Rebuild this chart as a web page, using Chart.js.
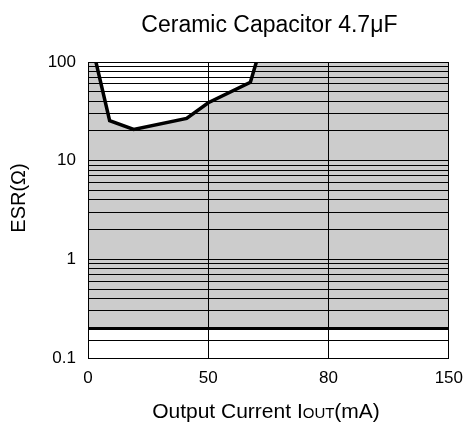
<!DOCTYPE html>
<html>
<head>
<meta charset="utf-8">
<script src="https://cdn.jsdelivr.net/npm/chart.js@4/dist/chart.umd.min.js"></script>
<style>
  html, body { margin: 0; padding: 0; background: #ffffff; }
  #wrap { width: 473px; height: 422px; }
</style>
</head>
<body>
<div id="wrap"><canvas id="c" width="473" height="422"></canvas></div>
<script>
// ---- data ----
const currentMA = [3.3, 9, 19, 41, 50, 60.5, 62];          // Output current (mA)
const esrOhm    = [100, 25.4, 20.7, 26.8, 38.6, 62.2, 100]; // ESR boundary (Ω)
const xTickValues = [0, 50, 80, 150];                        // x tick labels (equally spaced)
const yTickLabels = [0.1, 1, 10, 100];                       // labelled y ticks
const yGridValues = [0.1, 0.15, 0.2, 0.3, 0.4, 0.5, 0.6, 0.7, 0.8, 0.9,
                     1, 2, 3, 4, 5, 6, 7, 8, 9,
                     10, 20, 30, 40, 50, 60, 70, 80, 90, 100];
const stableLowerESR = 0.2;                                  // lower limit of stable area
const esrMax = 100;
const chartTitle = 'Ceramic Capacitor 4.7\u03BCF';
const yTitle = 'ESR(\u03A9)';

// x axis is piecewise linear: each tick interval gets equal width
function toAxis(mA) {
  for (let i = 0; i < xTickValues.length - 1; i++) {
    const a = xTickValues[i], b = xTickValues[i + 1];
    if (mA <= b) return i + (mA - a) / (b - a);
  }
  return xTickValues.length - 1;
}

const FONT = '"Liberation Sans", Arial, sans-serif';
const curvePoints = currentMA.map((c, i) => ({ x: toAxis(c), y: esrOhm[i] }));
const xMaxAxis = xTickValues.length - 1;
const bandPoints = [{ x: 0, y: esrMax }, { x: xMaxAxis, y: esrMax }];

const textPlugin = {
  id: 'texts',
  afterDraw(chart) {
    const ctx = chart.ctx, ca = chart.chartArea;
    ctx.save();
    ctx.fillStyle = '#000';
    ctx.font = '23px ' + FONT;
    ctx.textAlign = 'center';
    ctx.textBaseline = 'alphabetic';
    ctx.fillText(chartTitle, (ca.left + ca.right) / 2 + 1, 32);
    ctx.save();
    ctx.translate(25, 198);
    ctx.rotate(-Math.PI / 2);
    ctx.font = '20px ' + FONT;
    ctx.textAlign = 'center';
    ctx.fillText(yTitle, 0, 0);
    ctx.restore();
    const parts = [
      { t: 'Output Current I', f: '21px ' + FONT },
      { t: 'OUT', f: '15px ' + FONT },
      { t: '(mA)', f: '21px ' + FONT }
    ];
    let total = 0;
    parts.forEach(p => { ctx.font = p.f; p.w = ctx.measureText(p.t).width; total += p.w; });
    let x = 266 - total / 2;
    ctx.textAlign = 'left';
    parts.forEach(p => { ctx.font = p.f; ctx.fillText(p.t, x, 418); x += p.w; });
    ctx.restore();
  }
};

new Chart(document.getElementById('c'), {
  type: 'line',
  data: {
    datasets: [
      {
        label: 'ESR boundary',
        data: curvePoints,
        order: 0,
        borderColor: '#000',
        borderWidth: 3.5,
        pointRadius: 0,
        tension: 0,
        fill: { value: esrMax },
        backgroundColor: '#ffffff'
      },
      {
        label: 'Stable area',
        data: bandPoints,
        order: 1,
        borderWidth: 0,
        borderColor: 'rgba(0,0,0,0)',
        pointRadius: 0,
        fill: { value: stableLowerESR },
        backgroundColor: '#cccccc'
      }
    ]
  },
  options: {
    responsive: false,
    animation: false,
    events: [],
    layout: { padding: { top: 62, right: 23, left: 0, bottom: 0 } },
    plugins: { legend: { display: false }, tooltip: { enabled: false }, title: { display: false },
               filler: { propagate: false } },
    scales: {
      x: {
        type: 'linear',
        min: 0,
        max: xMaxAxis,
        afterBuildTicks: (s) => { s.ticks = xTickValues.map((v, i) => ({ value: i })); },
        afterFit: (s) => { s.height = 64; },
        ticks: {
          color: '#000',
          font: { family: FONT, size: 17 },
          padding: 10,
          autoSkip: false,
          maxRotation: 0,
          callback: (v) => String(xTickValues[Math.round(v)])
        },
        grid: { color: '#000', lineWidth: 1, drawTicks: false, z: 1 },
        border: { color: '#000', width: 1, z: 1 }
      },
      y: {
        type: 'logarithmic',
        min: 0.1,
        max: esrMax,
        afterBuildTicks: (s) => { s.ticks = yGridValues.map(v => ({ value: v })); },
        afterFit: (s) => { s.width = 88; },
        ticks: {
          color: '#000',
          font: { family: FONT, size: 17 },
          padding: 12,
          autoSkip: false,
          callback: (v) => yTickLabels.some(t => Math.abs(t - v) < 1e-9) ? String(v) : ''
        },
        grid: {
          color: '#000',
          drawTicks: false,
          z: 1,
          lineWidth: (c) => (c.tick && Math.abs(c.tick.value - stableLowerESR) < 1e-9) ? 3 : 1
        },
        border: { color: '#000', width: 1, z: 1 }
      }
    }
  },
  plugins: [textPlugin]
});
</script>
</body>
</html>
